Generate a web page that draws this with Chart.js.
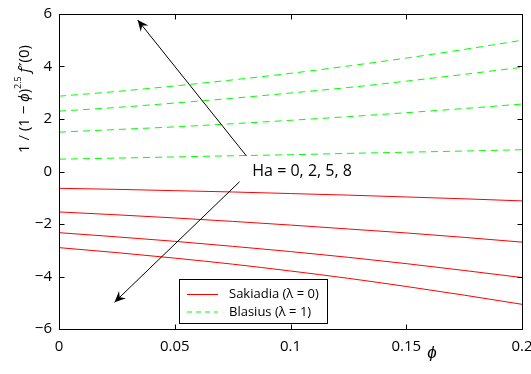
<!DOCTYPE html>
<html>
<head>
<meta charset="utf-8">
<script src="https://cdn.jsdelivr.net/npm/chart.js@4/dist/chart.umd.min.js"></script>
<style>
  html, body { margin: 0; background: #fff; }
</style>
</head>
<body>
<canvas id="chart" width="531" height="374"></canvas>
<script>
// phi values (x axis)
const phi = [0, 0.025, 0.05, 0.075, 0.1, 0.125, 0.15, 0.175, 0.2];

// Sakiadia (lambda = 0), Ha = 0, 2, 5, 8
const sakHa0 = [-0.64, -0.68, -0.73, -0.78, -0.84, -0.90, -0.97, -1.04, -1.12];
const sakHa2 = [-1.54, -1.65, -1.77, -1.90, -2.04, -2.19, -2.34, -2.51, -2.69];
const sakHa5 = [-2.33, -2.49, -2.66, -2.85, -3.05, -3.27, -3.51, -3.77, -4.04];
const sakHa8 = [-2.90, -3.09, -3.30, -3.53, -3.79, -4.07, -4.38, -4.71, -5.06];

// Blasius (lambda = 1), Ha = 0, 2, 5, 8
const blaHa0 = [0.47, 0.51, 0.555, 0.60, 0.64, 0.69, 0.735, 0.78, 0.83];
const blaHa2 = [1.50, 1.60, 1.70, 1.82, 1.95, 2.09, 2.24, 2.40, 2.57];
const blaHa5 = [2.30, 2.44, 2.61, 2.79, 2.99, 3.20, 3.44, 3.70, 3.97];
const blaHa8 = [2.87, 3.05, 3.26, 3.49, 3.74, 4.02, 4.32, 4.65, 5.00];

// annotation arrows in data coords: [start, tip]
const arrowUp = [[0.081, 0.59], [0.034, 5.77]];
const arrowDown = [[0.078, -0.39], [0.024, -4.98]];
const haLabel = "Ha = 0, 2, 5, 8";
const haLabelPos = [0.0835, 0];

const RED = "#ff0000";
const GREEN = "#00ff00";
const DASH = [7, 5];
const FONT = "'Open Sans', sans-serif";

function pts(ys) {
  return phi.map((x, i) => ({ x: x, y: ys[i] }));
}

function line(ys, color, dash) {
  return {
    data: pts(ys),
    borderColor: color,
    borderWidth: 1,
    borderDash: dash || [],
    pointRadius: 0,
    fill: false,
    cubicInterpolationMode: "monotone",
  };
}

function fmt(v) {
  let s = String(Number(v.toFixed(2)));
  return s.replace("-", "\u2212");
}

function drawArrow(ctx, x0, y0, x1, y1) {
  ctx.beginPath();
  ctx.moveTo(x0, y0);
  ctx.lineTo(x1, y1);
  ctx.stroke();
  const a = Math.atan2(y1 - y0, x1 - x0);
  const len = 11, half = 5;
  const bx = x1 - len * Math.cos(a), by = y1 - len * Math.sin(a);
  const nx = x1 - len * 0.65 * Math.cos(a), ny = y1 - len * 0.65 * Math.sin(a);
  ctx.beginPath();
  ctx.moveTo(x1, y1);
  ctx.lineTo(bx + half * Math.sin(a), by - half * Math.cos(a));
  ctx.lineTo(nx, ny);
  ctx.lineTo(bx - half * Math.sin(a), by + half * Math.cos(a));
  ctx.closePath();
  ctx.fill();
}

const decor = {
  id: "decor",
  afterDraw(chart) {
    const ctx = chart.ctx;
    const xs = chart.scales.x, ys = chart.scales.y;
    const { left, right, top, bottom } = chart.chartArea;
    ctx.save();
    ctx.strokeStyle = "#000";
    ctx.fillStyle = "#000";
    ctx.lineWidth = 1;

    // frame + inward ticks
    const L = Math.round(left) + 0.5, R = Math.round(right) + 0.5;
    const T = Math.round(top) + 0.5, B = Math.round(bottom) + 0.5;
    ctx.strokeRect(L, T, R - L, B - T);
    ctx.beginPath();
    xs.ticks.forEach(t => {
      const p = Math.round(xs.getPixelForValue(t.value)) + 0.5;
      ctx.moveTo(p, B); ctx.lineTo(p, B - 5);
      ctx.moveTo(p, T); ctx.lineTo(p, T + 5);
    });
    ys.ticks.forEach(t => {
      const p = Math.round(ys.getPixelForValue(t.value)) + 0.5;
      ctx.moveTo(L, p); ctx.lineTo(L + 5, p);
      ctx.moveTo(R, p); ctx.lineTo(R - 5, p);
    });
    ctx.stroke();

    // arrows
    [arrowUp, arrowDown].forEach(a => {
      drawArrow(ctx,
        xs.getPixelForValue(a[0][0]), ys.getPixelForValue(a[0][1]),
        xs.getPixelForValue(a[1][0]), ys.getPixelForValue(a[1][1]));
    });

    // Ha label
    ctx.font = "16px " + FONT;
    ctx.textAlign = "left";
    ctx.textBaseline = "middle";
    ctx.fillText(haLabel, xs.getPixelForValue(haLabelPos[0]), ys.getPixelForValue(haLabelPos[1]));

    // legend
    const lx = 179.5, ly = 279.5, lw = 148, lh = 44;
    ctx.fillStyle = "#fff";
    ctx.fillRect(lx, ly, lw, lh);
    ctx.strokeRect(lx, ly, lw, lh);
    const rows = [
      { label: "Sakiadia (\u03bb = 0)", color: RED, dash: [] },
      { label: "Blasius (\u03bb = 1)", color: GREEN, dash: [5, 4] },
    ];
    ctx.font = "13px " + FONT;
    rows.forEach((r, i) => {
      const y = 294.5 + i * 17.5;
      ctx.strokeStyle = r.color;
      ctx.setLineDash(r.dash);
      ctx.beginPath();
      ctx.moveTo(187, y); ctx.lineTo(218, y);
      ctx.stroke();
      ctx.setLineDash([]);
      ctx.fillStyle = "#000";
      ctx.fillText(r.label, 229, y);
    });

    // x axis title
    ctx.font = "italic 17px " + FONT;
    ctx.textAlign = "center";
    ctx.fillText("\u03d5", 432, 353);

    // y axis title (rotated, with superscript)
    ctx.translate(25, 99);
    ctx.rotate(-Math.PI / 2);
    const parts = [
      { t: "1 / (1 \u2212 ", f: "15px " + FONT, dy: 0 },
      { t: "\u03d5", f: "italic 15px " + FONT, dy: 0 },
      { t: ")", f: "15px " + FONT, dy: 0 },
      { t: "2.5", f: "9px " + FONT, dy: -7 },
      { t: " f", f: "italic 15px " + FONT, dy: 0 },
      { t: "\u2033", f: "14px 'DejaVu Sans'", dy: 0 },
      { t: "(0)", f: "15px " + FONT, dy: 0 },
    ];
    let total = 0;
    parts.forEach(p => { ctx.font = p.f; p.w = ctx.measureText(p.t).width; total += p.w; });
    let x = -total / 2;
    ctx.textAlign = "left";
    ctx.fillStyle = "#000";
    parts.forEach(p => {
      ctx.font = p.f;
      ctx.fillText(p.t, x, p.dy);
      x += p.w;
    });
    ctx.restore();
  },
};

new Chart(document.getElementById("chart"), {
  type: "line",
  data: {
    datasets: [
      line(sakHa0, RED), line(sakHa2, RED), line(sakHa5, RED), line(sakHa8, RED),
      line(blaHa0, GREEN, DASH), line(blaHa2, GREEN, DASH),
      line(blaHa5, GREEN, DASH), line(blaHa8, GREEN, DASH),
    ],
  },
  options: {
    responsive: false,
    animation: false,
    layout: { padding: { top: 14, right: 9, left: 0, bottom: 0 } },
    plugins: { legend: { display: false }, tooltip: { enabled: false } },
    scales: {
      x: {
        type: "linear",
        min: 0,
        max: 0.2,
        grid: { display: false, drawTicks: false },
        border: { display: false },
        ticks: {
          stepSize: 0.05,
          padding: 9,
          color: "#000",
          font: { family: FONT, size: 15 },
          maxRotation: 0,
          callback: v => fmt(v),
        },
        afterFit: s => { s.height = 45; s.paddingLeft = 0; s.paddingRight = 0; },
      },
      y: {
        type: "linear",
        min: -6,
        max: 6,
        grid: { display: false, drawTicks: false },
        border: { display: false },
        ticks: {
          stepSize: 2,
          padding: 7,
          color: "#000",
          font: { family: FONT, size: 15 },
          callback: v => fmt(v),
        },
        afterFit: s => { s.width = 59; s.paddingTop = 0; s.paddingBottom = 0; },
      },
    },
  },
  plugins: [decor],
});
</script>
</body>
</html>
